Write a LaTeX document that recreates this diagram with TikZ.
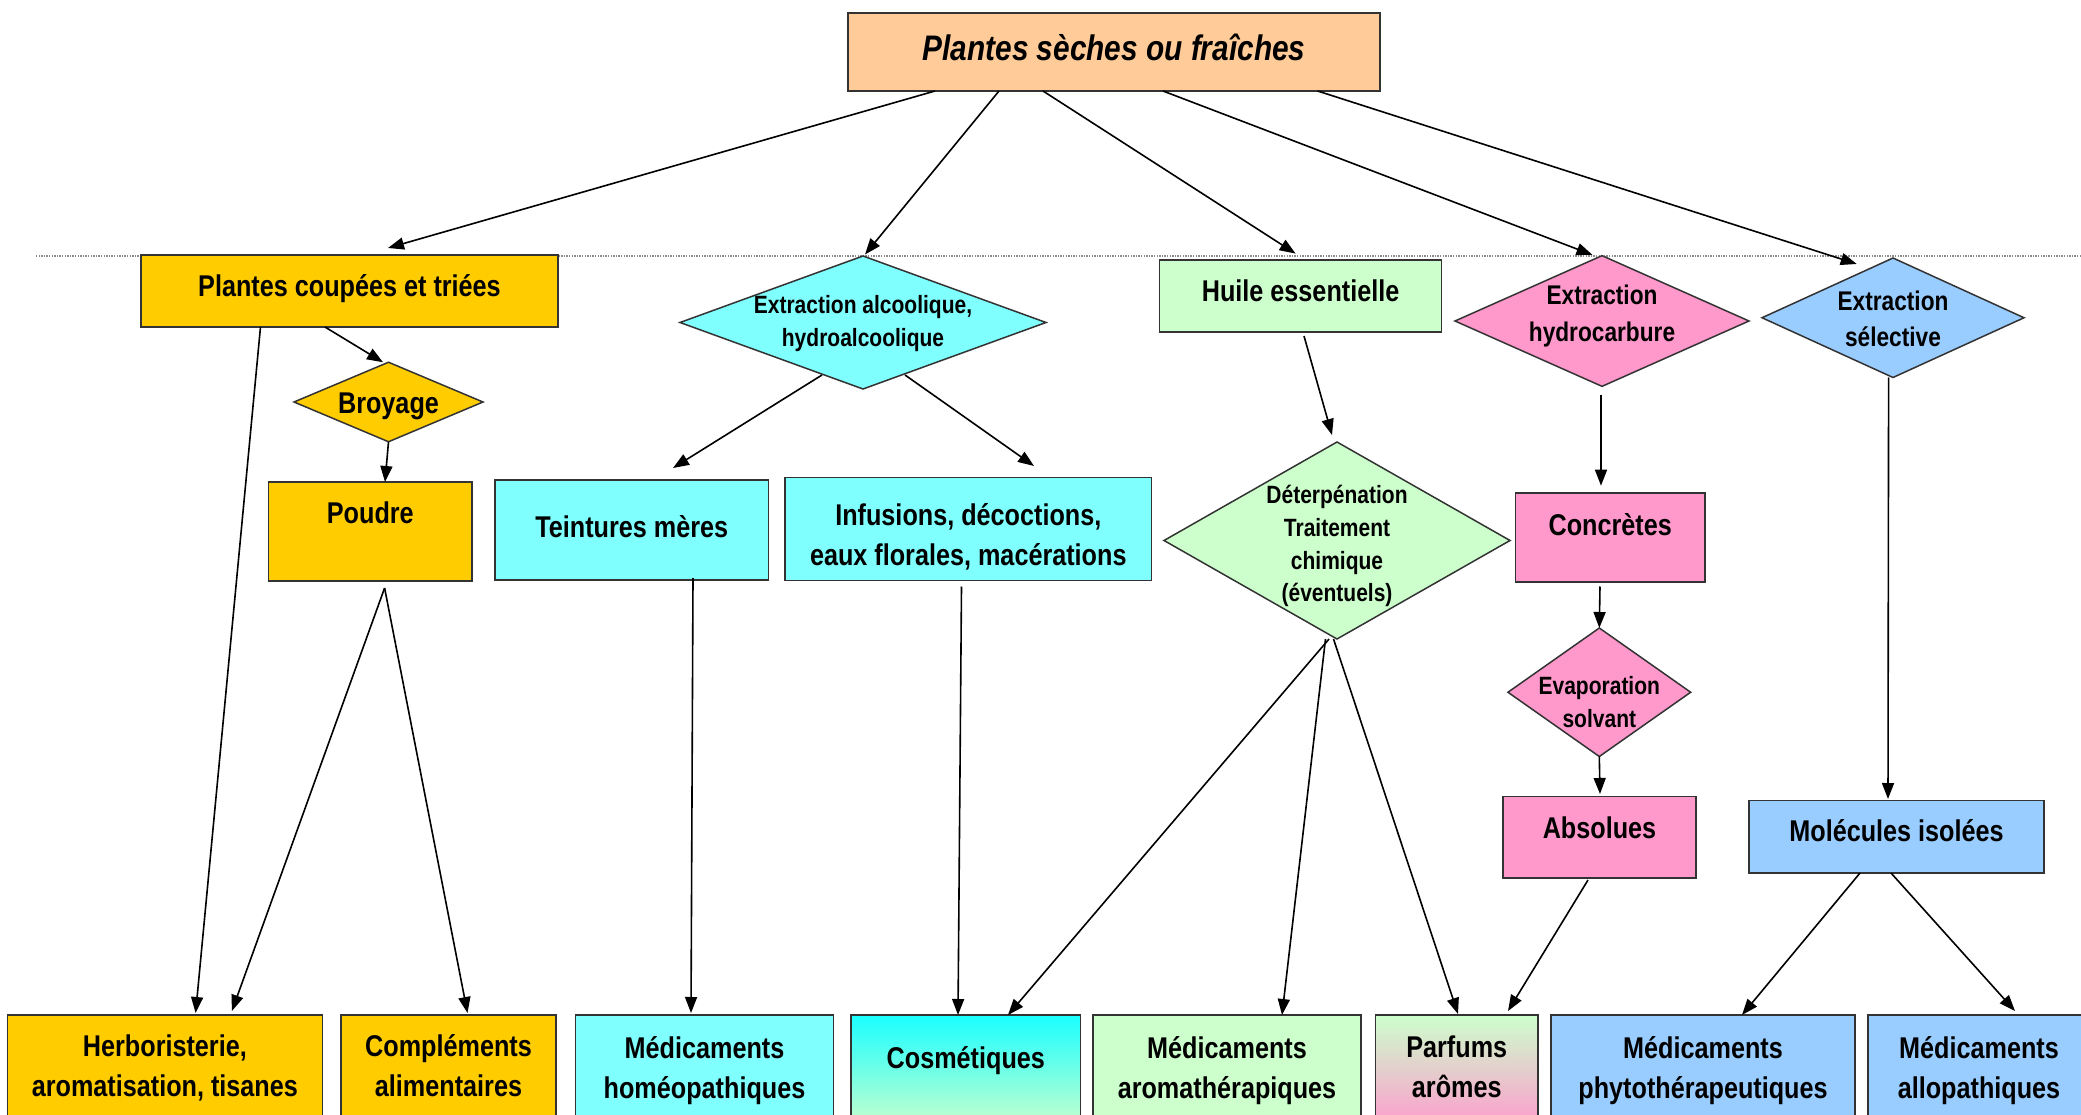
\documentclass[tikz,border=0pt]{standalone}
\usepackage{fontspec}
\setmainfont{Liberation Sans}[FakeStretch=0.84]
\usetikzlibrary{shapes.geometric,arrows.meta,calc}
\definecolor{peach}{HTML}{FFCC99}
\definecolor{gold}{HTML}{FFCC00}
\definecolor{cyanL}{HTML}{80FFFF}
\definecolor{cosTop}{HTML}{1AFFFF}
\definecolor{greenL}{HTML}{CCFFCC}
\definecolor{pinkL}{HTML}{FF99CC}
\definecolor{blueL}{HTML}{99CCFF}
\newcommand{\boxtxt}[2]{\smash{\makebox[0pt]{\raisebox{#1pt}{\begin{tabular}[t]{@{}c@{}}#2\end{tabular}}}}}
\tikzset{
  box/.style={rectangle, draw=black!80, line width=1.5pt, inner sep=0pt, outer sep=0pt},
  dia/.style={diamond, draw=black!80, line width=1.5pt, inner sep=0pt, outer sep=0pt},
  big/.style={font=\fontsize{30}{40}\selectfont\bfseries},
  mid/.style={font=\fontsize{27}{36}\selectfont\bfseries},
  sml/.style={font=\fontsize{25}{32.8}\selectfont\bfseries},
  arr/.style={draw=black, line width=1.6pt, -{Triangle[length=16pt,width=12pt]}},
  sep/.style={draw=black!45, line width=1.2pt, dash pattern=on 1.3pt off 1.3pt}
}
\begin{document}
\begin{tikzpicture}[x=1pt,y=-1pt]
\useasboundingbox (0,0) rectangle (2081,1115);
\fill[white] (0,0) rectangle (2081,1115);
\coordinate (sepL) at (36,256);
\coordinate (sepR) at (2081,256);
\draw[sep] (sepL) -- (sepR);

% upper nodes
\node[box, fill=peach, minimum width=532pt, minimum height=78pt, font=\fontsize{35.5}{44}\selectfont\bfseries\itshape] (top) at (1114,52) {\boxtxt{-9}{Plantes sèches ou fraîches}};
\node[box, fill=gold, big, minimum width=417pt, minimum height=72pt] (pc) at (349.5,291) {\boxtxt{-5.7}{Plantes coupées et triées}};
\node[dia, fill=gold, big, minimum width=189pt, minimum height=79.5pt] (broy) at (388.5,402) {\boxtxt{-12}{Broyage}};
\node[box, fill=gold, big, minimum width=203.4pt, minimum height=99pt] (poudre) at (370.3,531.5) {\boxtxt{8.5}{Poudre}};
\node[dia, fill=cyanL, sml, minimum width=366pt, minimum height=133pt] (alc) at (863,322.5) {\boxtxt{8.9}{Extraction alcoolique,\\hydroalcoolique}};
\node[box, fill=cyanL, big, minimum width=273.6pt, minimum height=100pt] (teint) at (631.8,530) {\boxtxt{-7.5}{Teintures mères}};
\node[box, fill=cyanL, big, minimum width=366.7pt, minimum height=103.4pt] (infus) at (968.3,529) {\boxtxt{4}{Infusions, décoctions,\\eaux florales, macérations}};
\node[box, fill=greenL, big, minimum width=282.2pt, minimum height=72pt] (huile) at (1300.6,296) {\boxtxt{-5.8}{Huile essentielle}};
\node[dia, fill=pinkL, mid, minimum width=294pt, minimum height=130.7pt] (hydro) at (1602,321) {\boxtxt{16}{Extraction\\hydrocarbure}};
\node[dia, fill=blueL, mid, minimum width=262pt, minimum height=119.5pt] (sel) at (1893,317.75) {\boxtxt{7}{Extraction\\sélective}};
\node[dia, fill=greenL, sml, minimum width=346pt, minimum height=197pt] (det) at (1337,540.5) {\boxtxt{37}{Déterpénation\\Traitement\\chimique\\(éventuels)}};
\node[box, fill=pinkL, big, minimum width=189.6pt, minimum height=89pt] (conc) at (1610.2,537.5) {\boxtxt{1.8}{Concrètes}};
\node[dia, fill=pinkL, sml, minimum width=182.7pt, minimum height=128.5pt] (evap) at (1599.3,692.25) {\boxtxt{-2.25}{Evaporation\\solvant}};
\node[box, fill=pinkL, big, minimum width=193pt, minimum height=81.5pt] (abs) at (1599.5,837.25) {\boxtxt{-0.75}{Absolues}};
\node[box, fill=blueL, big, minimum width=295pt, minimum height=72.3pt] (mol) at (1896.5,836.85) {\boxtxt{-4.5}{Molécules isolées}};

% bottom nodes
\node[box, fill=gold, big, minimum width=315.2pt, minimum height=115pt] (herb) at (164.9,1072.5) {\boxtxt{16.5}{Herboristerie,\\aromatisation, tisanes}};
\node[box, fill=gold, big, minimum width=215pt, minimum height=115pt] (compl) at (448.5,1072.5) {\boxtxt{16.5}{Compléments\\alimentaires}};
\node[box, fill=cyanL, big, minimum width=258pt, minimum height=115pt] (homeo) at (704.5,1072.5) {\boxtxt{14.5}{Médicaments\\homéopathiques}};
\node[box, top color=cosTop, bottom color=greenL, big, minimum width=229.6pt, minimum height=115pt] (cosm) at (965.8,1072.5) {\boxtxt{4.5}{Cosmétiques}};
\node[box, fill=greenL, big, minimum width=268pt, minimum height=115pt] (aroma) at (1227,1072.5) {\boxtxt{14}{Médicaments\\aromathérapiques}};
\node[box, top color=greenL, bottom color=pinkL, big, minimum width=162.5pt, minimum height=115pt] (parf) at (1456.75,1072.5) {\boxtxt{15.5}{Parfums\\arômes}};
\node[box, fill=blueL, big, minimum width=304pt, minimum height=115pt] (phyto) at (1703,1072.5) {\boxtxt{14.5}{Médicaments\\phytothérapeutiques}};
\node[box, fill=blueL, big, minimum width=222pt, minimum height=115pt] (allo) at (1979,1072.5) {\boxtxt{14.5}{Médicaments\\allopathiques}};

% connectors
\draw[arr] ($(top.south)+(-179,0)$) -- ($(pc.north)+(38.5,-7)$);
\draw[arr] ($(top.south)+(-115,0)$) -- ($(alc.north)+(2,-1.5)$);
\draw[arr] ($(top.south)+(-71,0)$) -- ($(huile.north)+(-5,-6.4)$);
\draw[arr] ($(top.south)+(49,0)$) -- ($(hydro.north)+(-9.5,-0.7)$);
\draw[arr] ($(top.south)+(203.6,0)$) -- ($(sel.north)+(-36.3,6)$);

\draw[arr] ($(pc.south)+(-89,0)$) -- ($(herb.north)+(30.7,-2)$);
\draw[arr] ($(pc.south)+(-24.5,0)$) -- ($(broy.north)+(-5.5,0)$);
\draw[arr] (broy.south) -- ($(poudre.north)+(14.7,0)$);
\draw[arr] ($(poudre.south)+(14.3,7)$) -- ($(herb.north)+(67,-4)$);
\draw[arr] ($(poudre.south)+(14.3,7)$) -- ($(compl.north)+(19,-2)$);

\draw[arr] ($(alc.center)+(-41,52.5)$) -- ($(teint.north)+(41.2,-12)$);
\draw[arr] ($(alc.center)+(42,52.5)$) -- ($(infus.north)+(65.7,-11.3)$);
\draw[arr] ($(teint.south)+(61.2,-2)$) -- ($(homeo.north)+(-13.5,-2)$);
\draw[arr] ($(infus.south)+(-6.8,5.8)$) -- ($(cosm.north)+(-7.8,0)$);

\draw[arr] ($(huile.south)+(3.4,4)$) -- ($(det.north)+(-5,-7)$);
\draw[arr] ($(det.south)+(-8,0)$) -- ($(cosm.north)+(42.2,0)$);
\draw[arr] ($(det.south)+(-11.5,0)$) -- ($(aroma.north)+(55,0)$);
\draw[arr] ($(det.south)+(-3.5,0)$) -- ($(parf.north)+(1.25,-1)$);

\draw[arr] ($(hydro.south)+(-1,8.2)$) -- ($(conc.north)+(-9.2,-7.3)$);
\draw[arr] ($(conc.south)+(-10.2,4.5)$) -- (evap.north);
\draw[arr] (evap.south) -- ($(abs.north)+(0.5,-2.5)$);
\draw[arr] ($(abs.south)+(-11.5,2)$) -- ($(parf.north)+(51.25,-4)$);

\draw[arr] ($(sel.south)+(-4.4,0)$) -- ($(mol.north)+(-8.5,-1.7)$);
\draw[arr] ($(mol.south)+(-36.5,0)$) -- ($(phyto.north)+(39,0)$);
\draw[arr] ($(mol.south)+(-5.5,0)$) -- ($(allo.north)+(36,-4)$);
\end{tikzpicture}
\end{document}
